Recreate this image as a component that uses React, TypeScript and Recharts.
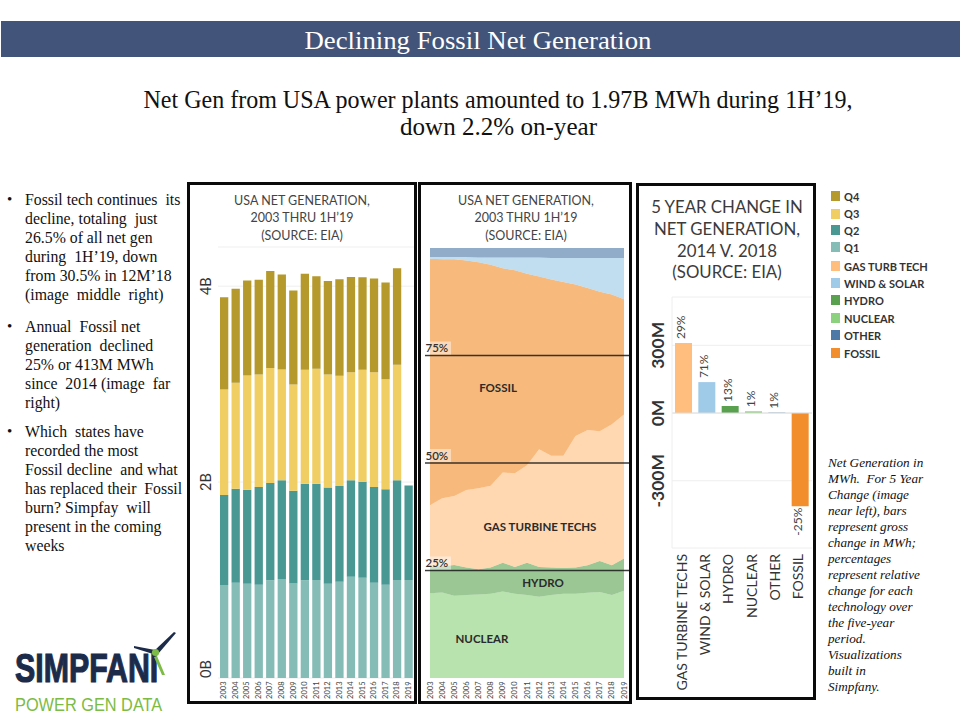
import React from 'react';
import {
  BarChart,
  Bar,
  AreaChart,
  Area,
  XAxis,
  YAxis,
  CartesianGrid,
  ReferenceLine,
  LabelList,
  Cell,
} from 'recharts';

// ---------- data ----------
const YEARS = [2003, 2004, 2005, 2006, 2007, 2008, 2009, 2010, 2011, 2012, 2013, 2014, 2015, 2016, 2017, 2018, 2019];

// Quarterly USA net generation, billions of MWh (2019 = first half only)
const GEN_Q1 = [0.949, 0.973, 0.962, 0.952, 0.997, 1.01, 0.966, 0.997, 1.0, 0.962, 0.983, 1.034, 1.023, 0.973, 0.952, 1.0, 1.0];
const GEN_Q2 = [0.918, 0.959, 0.959, 0.997, 0.993, 1.01, 0.945, 0.986, 0.983, 0.984, 0.976, 0.986, 0.98, 0.976, 0.974, 1.02, 0.966];
const GEN_Q3 = [1.079, 1.081, 1.168, 1.15, 1.176, 1.13, 1.086, 1.163, 1.173, 1.153, 1.126, 1.102, 1.143, 1.173, 1.125, 1.177, null];
const GEN_Q4 = [0.942, 0.96, 0.969, 0.966, 0.99, 0.969, 0.959, 0.98, 0.946, 0.955, 0.986, 0.973, 0.946, 0.956, 0.987, 0.987, null];
const GEN_TICKS = [0, 2, 4];

// Share of annual net generation by technology, percent
const SHARE_NUCLEAR = [19.7, 19.9, 19.1, 19.3, 19.4, 19.6, 20.1, 19.6, 19.3, 18.9, 19.3, 19.6, 19.6, 19.8, 20.0, 19.3, 20.3];
const SHARE_HYDRO = [6.2, 6.1, 7.2, 6.4, 5.9, 6.1, 6.7, 6.2, 7.5, 6.9, 6.4, 6.0, 6.1, 6.4, 7.2, 6.9, 7.5];
const SHARE_GAS_TURB = [14.3, 15.8, 16.0, 18.0, 18.8, 19.0, 21.0, 21.8, 22.7, 27.4, 26.0, 26.1, 30.6, 31.5, 30.2, 32.8, 33.5];
const SHARE_FOSSIL = [57.3, 55.6, 55.1, 53.4, 52.6, 51.4, 47.5, 47.2, 44.5, 40.2, 41.0, 40.4, 35.2, 33.0, 32.4, 30.2, 26.8];
const SHARE_WIND_SOLAR = [0.4, 0.5, 0.5, 0.8, 1.1, 1.7, 2.5, 3.0, 3.8, 4.4, 5.0, 5.6, 6.2, 7.0, 7.9, 8.5, 9.6];
const SHARE_OTHER = [2.1, 2.1, 2.1, 2.1, 2.2, 2.2, 2.2, 2.2, 2.2, 2.2, 2.3, 2.3, 2.3, 2.3, 2.3, 2.3, 2.3];
const SHARE_MARKS = [0.25, 0.5, 0.75];

// Change in net generation 2014 v. 2018, millions of MWh, with relative change
const CHANGE_TECHS = ['GAS TURBINE TECHS', 'WIND & SOLAR', 'HYDRO', 'NUCLEAR', 'OTHER', 'FOSSIL'];
const CHANGE_MWH = [310, 137, 31, 7.5, 1.5, -413];
const CHANGE_PCT = ['29%', '71%', '13%', '1%', '1%', '-25%'];
const CHANGE_TICKS = [-300, 0, 300];

// ---------- palette ----------
const C_Q4 = '#B6992D';
const C_Q3 = '#F1CE63';
const C_Q2 = '#499894';
const C_Q1 = '#86BCB6';
const C_GAS = '#FFBE7D';
const C_WIND = '#A0CBE8';
const C_HYDRO = '#59A14F';
const C_NUCLEAR = '#8CD17D';
const C_OTHER = '#4E79A7';
const C_FOSSIL = '#F28E2B';
const CHANGE_COLORS = [C_GAS, C_WIND, C_HYDRO, C_NUCLEAR, C_OTHER, C_FOSSIL];

const LEGEND = [
  { name: 'Q4', color: C_Q4 },
  { name: 'Q3', color: C_Q3 },
  { name: 'Q2', color: C_Q2 },
  { name: 'Q1', color: C_Q1 },
  { name: 'GAS TURB TECH', color: C_GAS },
  { name: 'WIND & SOLAR', color: C_WIND },
  { name: 'HYDRO', color: C_HYDRO },
  { name: 'NUCLEAR', color: C_NUCLEAR },
  { name: 'OTHER', color: C_OTHER },
  { name: 'FOSSIL', color: C_FOSSIL },
];

const SANS = 'Lato, "Open Sans", "DejaVu Sans", sans-serif';
const SERIF = '"Liberation Serif", "Times New Roman", serif';

const genRows = YEARS.map((year, i) => ({
  year,
  q1: GEN_Q1[i],
  q2: GEN_Q2[i],
  q3: GEN_Q3[i],
  q4: GEN_Q4[i],
}));

const shareRows = YEARS.map((year, i) => ({
  year,
  nuclear: SHARE_NUCLEAR[i],
  hydro: SHARE_HYDRO[i],
  gas: SHARE_GAS_TURB[i],
  fossil: SHARE_FOSSIL[i],
  wind: SHARE_WIND_SOLAR[i],
  other: SHARE_OTHER[i],
}));

const changeRows = CHANGE_TECHS.map((tech, i) => ({ tech, mwh: CHANGE_MWH[i], pct: CHANGE_PCT[i] }));

// ---------- tick renderers ----------
const YearTick = (props: any) => {
  const { x, payload, baseY } = props;
  return (
    <text
      transform={`translate(${x + 2.6}, ${baseY}) rotate(-90)`}
      textAnchor="end"
      fontSize={7.5}
      fill="#444"
      fontFamily={SANS}
    >
      {payload.value}
    </text>
  );
};

const GenYTick = (props: any) => {
  const { y, payload } = props;
  const v = payload.value;
  return (
    <text
      transform={`translate(22.5, ${y}) rotate(-90)`}
      textAnchor={v === 0 ? 'start' : 'middle'}
      fontSize={14.5}
      fill="#333"
      fontFamily={SANS}
    >
      {`${v}B`}
    </text>
  );
};

const ChangeYTick = (props: any) => {
  const { y, payload } = props;
  return (
    <text
      transform={`translate(26, ${y}) rotate(-90)`}
      textAnchor="middle"
      fontSize={17.5}
      fontWeight={700}
      fill="#333"
      fontFamily={SANS}
    >
      {`${payload.value}M`}
    </text>
  );
};

const TechTick = (props: any) => {
  const { x, payload } = props;
  return (
    <text
      transform={`translate(${x + 3}, 372) rotate(-90)`}
      textAnchor="end"
      fontSize={14}
      fill="#333"
      fontFamily={SANS}
    >
      {payload.value}
    </text>
  );
};

const PctLabel = (props: any) => {
  const { x, y, width, height, index } = props;
  const top = Math.min(y, y + height);
  const bottom = Math.max(y, y + height);
  const cx = x + width / 2 + 1.5;
  const neg = CHANGE_MWH[index] < 0;
  return (
    <text
      transform={`translate(${cx}, ${neg ? bottom + 1.5 : top - 4}) rotate(-90)`}
      textAnchor={neg ? 'end' : 'start'}
      fontSize={12}
      fill="#444"
      fontFamily={SANS}
    >
      {CHANGE_PCT[index]}
    </text>
  );
};

const shareLineShape = (label: string) => (props: any) => {
  const { x1, y1, x2 } = props;
  return (
    <g>
      <line x1={x1 - 5} y1={y1} x2={x2 + 7} y2={y1} stroke="#1a1a1a" strokeOpacity={0.85} strokeWidth={1.6} />
      <rect x={x1 - 5} y={y1 - 14} width={26} height={13} fill="#fff" fillOpacity={0.45} />
      <text x={x1 - 4.5} y={y1 - 3.5} fontSize={11.5} fontWeight={600} fill="#333" fontFamily={SANS}>
        {label}
      </text>
    </g>
  );
};

// ---------- layout pieces ----------
const abs = (left: number, top: number, extra: React.CSSProperties = {}): React.CSSProperties => ({
  position: 'absolute',
  left,
  top,
  ...extra,
});

const Frame = ({ left, top, width, height }: { left: number; top: number; width: number; height: number }) => (
  <div
    style={abs(left, top, {
      width,
      height,
      border: '3px solid #0a0a0a',
      boxSizing: 'border-box',
      pointerEvents: 'none',
    })}
  />
);

const PanelTitle = ({ lines, cx, top, size, lh, color }: any) => (
  <div
    style={abs(cx - 100, top, {
      width: 200,
      textAlign: 'center',
      fontFamily: SANS,
      fontSize: size,
      lineHeight: `${lh}px`,
      color,
      whiteSpace: 'nowrap',
    })}
  >
    {lines.map((l: string) => (
      <div key={l}>{l}</div>
    ))}
  </div>
);

const AreaTag = ({ text, x, y }: { text: string; x: number; y: number }) => (
  <div
    style={abs(x, y, {
      transform: 'translate(-50%, -50%)',
      fontFamily: SANS,
      fontSize: 11.5,
      fontWeight: 700,
      color: '#2b2b2b',
      whiteSpace: 'nowrap',
    })}
  >
    {text}
  </div>
);

const BULLETS = [
  {
    top: 190,
    lines: [
      'Fossil tech continues  its',
      'decline, totaling  just',
      '26.5% of all net gen',
      'during  1H\u201919, down',
      'from 30.5% in 12M\u201918',
      '(image  middle  right)',
    ],
  },
  {
    top: 317,
    lines: ['Annual  Fossil net', 'generation  declined', '25% or 413M MWh', 'since  2014 (image  far', 'right)'],
  },
  {
    top: 422,
    lines: [
      'Which  states have',
      'recorded the most',
      'Fossil decline  and what',
      'has replaced their  Fossil',
      'burn? Simpfay  will',
      'present in the coming',
      'weeks',
    ],
  },
];

const NOTE_LINES = [
  'Net Generation in',
  'MWh.  For 5 Year',
  'Change (image',
  'near left), bars',
  'represent gross',
  'change in MWh;',
  'percentages',
  'represent relative',
  'change for each',
  'technology over',
  'the five-year',
  'period.',
  'Visualizations',
  'built in',
  'Simpfany.',
];

export default function App() {
  return (
    <div style={abs(0, 0, { width: 960, height: 720, background: '#fff', overflow: 'hidden' })}>
      {/* heading */}
      <svg width={960} height={160} style={abs(0, 0)}>
        <rect x={1} y={21} width={959} height={36} fill="#43547A" />
        <text
          x={478}
          y={48.5}
          textAnchor="middle"
          fontFamily={SERIF}
          fontSize={26}
          fill="#fff"
          textLength={347}
          lengthAdjust="spacingAndGlyphs"
        >
          Declining Fossil Net Generation
        </text>
        <text
          x={498}
          y={108}
          textAnchor="middle"
          fontFamily={SERIF}
          fontSize={25}
          fill="#111"
          textLength={709}
          lengthAdjust="spacingAndGlyphs"
        >
          Net Gen from USA power plants amounted to 1.97B MWh during 1H’19,
        </text>
        <text
          x={498.5}
          y={135}
          textAnchor="middle"
          fontFamily={SERIF}
          fontSize={25}
          fill="#111"
          textLength={197}
          lengthAdjust="spacingAndGlyphs"
        >
          down 2.2% on-year
        </text>
      </svg>

      {/* bullet commentary */}
      {BULLETS.map((b, bi) => (
        <div key={bi} style={abs(0, b.top, { width: 186 })}>
          <div style={abs(7, 0, { fontFamily: SERIF, fontSize: 15, lineHeight: '19px', color: '#111' })}>•</div>
          {b.lines.map((l, li) => (
            <div
              key={li}
              style={abs(25, li * 19, {
                fontFamily: SERIF,
                fontSize: 15.8,
                lineHeight: '19px',
                color: '#111',
                whiteSpace: 'pre',
              })}
            >
              {l}
            </div>
          ))}
        </div>
      ))}

      {/* logo */}
      <svg width={188} height={100} style={abs(0, 620)}>
        <g transform="translate(15, 62) scale(0.74, 1)">
          <text
            x={0}
            y={0}
            fontFamily='"Liberation Sans", "DejaVu Sans", sans-serif'
            fontWeight={700}
            fontSize={41}
            fill="#1C2B4A"
            stroke="#1C2B4A"
            strokeWidth={1.2}
          >
            SIMPFANI
          </text>
        </g>
        <g transform="translate(15, 91) scale(0.86, 1)">
          <text x={0} y={0} fontFamily='"Liberation Sans", "DejaVu Sans", sans-serif' fontSize={19} fill="#7CBB45">
            POWER GEN DATA
          </text>
        </g>
        <polygon points="154,31 174,12 176,13 158,34" fill="#1C2B4A" />
        <polygon points="153,34 134,28 134,26 155,30" fill="#1C2B4A" />
        <polygon points="157,36 165,55 162,55 154,37" fill="#7CBB45" />
        <circle cx={155.5} cy={32.5} r={3.6} fill="#7CBB45" />
      </svg>

      {/* quarterly generation */}
      <PanelTitle
        lines={['USA NET GENERATION,', '2003 THRU 1H\u201919', '(SOURCE: EIA)']}
        cx={302}
        top={191.5}
        size={12.5}
        lh={17.5}
        color="#444"
      />
      <div style={abs(188, 182)}>
        <BarChart width={229} height={523} data={genRows} margin={{ top: 65, right: 3, bottom: 3, left: 4 }} barSize={8.3}>
          <CartesianGrid vertical={false} stroke="#efefef" />
          <XAxis
            dataKey="year"
            height={24}
            axisLine={false}
            tickLine={false}
            interval={0}
            tick={(p: any) => <YearTick {...p} baseY={499.5} />}
          />
          <YAxis domain={[0, 4.4]} ticks={GEN_TICKS} width={26} axisLine={false} tickLine={false} tick={GenYTick} />
          <Bar dataKey="q1" stackId="q" fill={C_Q1} isAnimationActive={false} />
          <Bar dataKey="q2" stackId="q" fill={C_Q2} isAnimationActive={false} />
          <Bar dataKey="q3" stackId="q" fill={C_Q3} isAnimationActive={false} />
          <Bar dataKey="q4" stackId="q" fill={C_Q4} isAnimationActive={false} />
        </BarChart>
      </div>
      <Frame left={187} top={182} width={230} height={522} />

      {/* technology share */}
      <PanelTitle
        lines={['USA NET GENERATION,', '2003 THRU 1H\u201919', '(SOURCE: EIA)']}
        cx={526}
        top={191.5}
        size={12.5}
        lh={17.5}
        color="#444"
      />
      <div style={abs(418, 182)}>
        <AreaChart width={216} height={523} data={shareRows} stackOffset="expand" margin={{ top: 66, right: 10, bottom: 3, left: 12 }}>
          <XAxis
            dataKey="year"
            type="number"
            domain={[2003, 2019]}
            ticks={YEARS}
            interval={0}
            height={24}
            axisLine={false}
            tickLine={false}
            tick={(p: any) => <YearTick {...p} baseY={499.5} />}
          />
          <YAxis hide domain={[0, 1]} />
          <Area dataKey="nuclear" stackId="s" type="linear" fill={C_NUCLEAR} fillOpacity={0.62} stroke="none" isAnimationActive={false} />
          <Area dataKey="hydro" stackId="s" type="linear" fill={C_HYDRO} fillOpacity={0.6} stroke="none" isAnimationActive={false} />
          <Area dataKey="gas" stackId="s" type="linear" fill={C_GAS} fillOpacity={0.6} stroke="none" isAnimationActive={false} />
          <Area dataKey="fossil" stackId="s" type="linear" fill={C_FOSSIL} fillOpacity={0.62} stroke="none" isAnimationActive={false} />
          <Area dataKey="wind" stackId="s" type="linear" fill={C_WIND} fillOpacity={0.65} stroke="none" isAnimationActive={false} />
          <Area dataKey="other" stackId="s" type="linear" fill={C_OTHER} fillOpacity={0.62} stroke="none" isAnimationActive={false} />
          {SHARE_MARKS.map((m) => (
            <ReferenceLine key={m} y={m} ifOverflow="visible" shape={shareLineShape(`${Math.round(m * 100)}%`)} />
          ))}
        </AreaChart>
      </div>
      <AreaTag text="FOSSIL" x={498} y={387} />
      <AreaTag text="GAS TURBINE TECHS" x={540} y={526} />
      <AreaTag text="HYDRO" x={543} y={582} />
      <AreaTag text="NUCLEAR" x={482} y={637.5} />
      <Frame left={418} top={182} width={214} height={522} />

      {/* five-year change */}
      <PanelTitle
        lines={['5 YEAR CHANGE IN', 'NET GENERATION,', '2014 V. 2018', '(SOURCE: EIA)']}
        cx={727}
        top={196}
        size={16.8}
        lh={21.8}
        color="#3b3b3b"
      />
      <div style={abs(638, 182)}>
        <BarChart width={178} height={518} data={changeRows} margin={{ top: 115, right: 4, bottom: 2, left: 0 }} barSize={17}>
          <CartesianGrid vertical={false} stroke="#eeeeee" />
          <XAxis dataKey="tech" height={150} axisLine={false} tickLine={false} interval={0} tick={TechTick} />
          <YAxis
            domain={[-598, 514]}
            ticks={CHANGE_TICKS}
            width={34}
            axisLine={{ stroke: '#eeeeee' }}
            tickLine={false}
            tick={ChangeYTick}
          />
          <ReferenceLine y={0} stroke="#dddddd" />
          <Bar dataKey="mwh" isAnimationActive={false}>
            {changeRows.map((r, i) => (
              <Cell key={r.tech} fill={CHANGE_COLORS[i]} />
            ))}
            <LabelList dataKey="pct" content={PctLabel} />
          </Bar>
        </BarChart>
      </div>
      <Frame left={636} top={183} width={180} height={517} />

      {/* legend */}
      {LEGEND.map((l, i) => {
        const cy = [196, 213.7, 230.3, 247, 266, 283, 300.3, 318, 335.3, 353][i];
        return (
          <div key={l.name} style={abs(831, cy - 5, { display: 'flex', alignItems: 'center', height: 10 })}>
            <div style={{ width: 9, height: 10, background: l.color, marginRight: 4 }} />
            <span style={{ fontFamily: SANS, fontSize: 11, fontWeight: 700, color: '#333', whiteSpace: 'nowrap' }}>{l.name}</span>
          </div>
        );
      })}

      {/* footnote */}
      <div
        style={abs(828, 454.7, {
          fontFamily: SERIF,
          fontStyle: 'italic',
          fontSize: 13.2,
          lineHeight: '16.04px',
          color: '#111',
          whiteSpace: 'pre',
        })}
      >
        {NOTE_LINES.map((l) => (
          <div key={l}>{l}</div>
        ))}
      </div>
    </div>
  );
}
